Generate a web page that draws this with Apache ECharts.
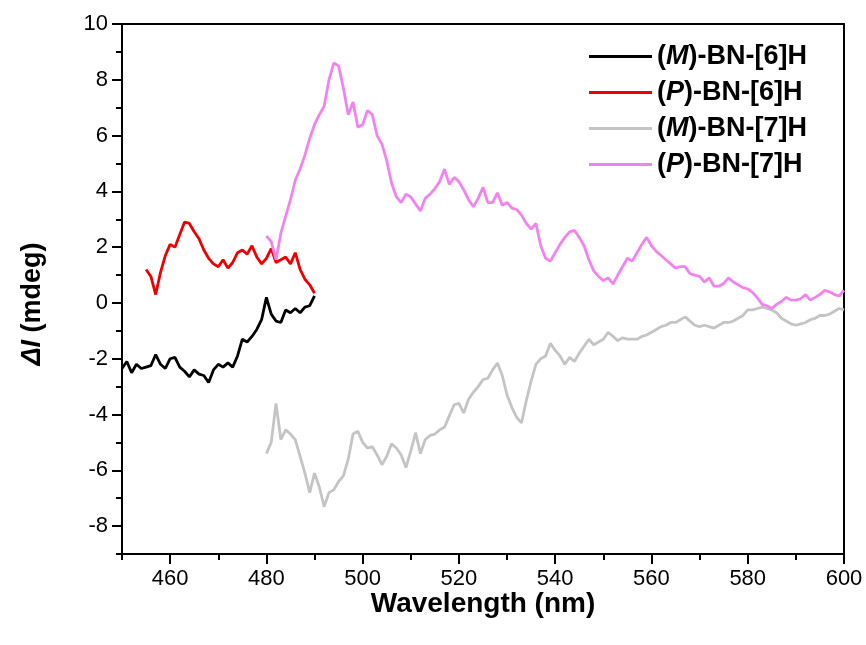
<!DOCTYPE html>
<html>
<head>
<meta charset="utf-8">
<script src="https://cdn.jsdelivr.net/npm/echarts@6/dist/echarts.min.js"></script>
<style>
  html, body { margin: 0; padding: 0; background: #fff; }
  #chart { width: 866px; height: 645px; }
</style>
</head>
<body>
<div id="chart"></div>
<script>
// 波长刻度
var majorX = [460, 480, 500, 520, 540, 560, 580, 600];
var minorX = [450, 470, 490, 510, 530, 550, 570, 590];
var majorY = [-8, -6, -4, -2, 0, 2, 4, 6, 8, 10];
var minorY = [-9, -7, -5, -3, -1, 1, 3, 5, 7, 9];

// (M)-BN-[6]H, 450-490 nm, 步长 1 nm
var m6Start = 450;
var m6Values = [-2.35, -2.1, -2.5, -2.2, -2.35, -2.3, -2.25, -1.85, -2.2, -2.35,
  -2.0, -1.95, -2.3, -2.45, -2.65, -2.4, -2.55, -2.6, -2.85, -2.4,
  -2.2, -2.3, -2.15, -2.3, -1.9, -1.3, -1.4, -1.2, -0.95, -0.6,
  0.2, -0.4, -0.65, -0.7, -0.25, -0.35, -0.2, -0.35, -0.15, -0.1, 0.25];

// (P)-BN-[6]H, 455-490 nm
var p6Start = 455;
var p6Values = [1.2, 0.95, 0.3, 1.1, 1.7, 2.1, 2.0, 2.45, 2.9, 2.85,
  2.55, 2.3, 1.9, 1.6, 1.4, 1.3, 1.55, 1.25, 1.45, 1.8,
  1.9, 1.75, 2.05, 1.65, 1.4, 1.6, 1.95, 1.45, 1.55, 1.65,
  1.4, 1.8, 1.2, 0.85, 0.65, 0.35];

// (M)-BN-[7]H, 480-600 nm
var m7Start = 480;
var m7Values = [-5.4, -5.0, -3.6, -4.9, -4.55, -4.7, -4.9, -5.5, -6.1, -6.8,
  -6.1, -6.6, -7.3, -6.8, -6.7, -6.4, -6.2, -5.6, -4.7, -4.6,
  -5.0, -5.2, -5.15, -5.45, -5.8, -5.5, -5.05, -5.2, -5.45, -5.9,
  -5.3, -4.65, -5.4, -4.9, -4.75, -4.7, -4.55, -4.45, -4.05, -3.65,
  -3.6, -3.95, -3.45, -3.2, -3.0, -2.75, -2.7, -2.4, -2.15, -2.6,
  -3.3, -3.75, -4.1, -4.3, -3.5, -2.8, -2.2, -2.0, -1.9, -1.45,
  -1.7, -1.9, -2.2, -1.95, -2.1, -1.8, -1.55, -1.3, -1.5, -1.4,
  -1.3, -1.05, -1.2, -1.35, -1.25, -1.3, -1.3, -1.3, -1.2, -1.15,
  -1.05, -0.95, -0.85, -0.8, -0.7, -0.7, -0.6, -0.5, -0.65, -0.8,
  -0.85, -0.8, -0.85, -0.9, -0.8, -0.7, -0.7, -0.65, -0.55, -0.45,
  -0.25, -0.25, -0.2, -0.15, -0.2, -0.25, -0.35, -0.55, -0.65, -0.75,
  -0.8, -0.75, -0.7, -0.6, -0.55, -0.45, -0.45, -0.4, -0.3, -0.2, -0.25];

// (P)-BN-[7]H, 480-600 nm
var p7Start = 480;
var p7Values = [2.4, 2.2, 1.55, 2.5, 3.1, 3.7, 4.4, 4.8, 5.3, 5.9,
  6.4, 6.75, 7.05, 8.0, 8.6, 8.5, 7.7, 6.75, 7.2, 6.3,
  6.4, 6.9, 6.75, 6.0, 5.7, 5.1, 4.3, 3.8, 3.6, 3.9,
  3.8, 3.55, 3.3, 3.75, 3.9, 4.1, 4.35, 4.8, 4.25, 4.5,
  4.35, 4.05, 3.7, 3.45, 3.75, 4.15, 3.6, 3.6, 3.95, 3.5,
  3.6, 3.4, 3.35, 3.15, 2.85, 2.65, 2.85, 2.05, 1.6, 1.5,
  1.8, 2.1, 2.35, 2.55, 2.6, 2.35, 2.05, 1.55, 1.15, 0.95,
  0.8, 0.9, 0.68, 1.0, 1.3, 1.6, 1.5, 1.8, 2.1, 2.35,
  2.05, 1.85, 1.7, 1.55, 1.4, 1.25, 1.3, 1.3, 1.05, 1.0,
  0.95, 0.75, 0.9, 0.6, 0.6, 0.7, 0.9, 0.75, 0.65, 0.55,
  0.5, 0.38, 0.18, -0.05, -0.1, -0.2, -0.05, 0.05, 0.2, 0.1,
  0.1, 0.15, 0.3, 0.1, 0.2, 0.3, 0.45, 0.4, 0.3, 0.25, 0.45];

var seriesNames = ['(M)-BN-[6]H', '(P)-BN-[6]H', '(M)-BN-[7]H', '(P)-BN-[7]H'];
var seriesColors = ['#000000', '#ee0000', '#c4c4c4', '#f282f2'];

function toPairs(start, values) {
  return values.map(function (v, i) { return [start + i, v]; });
}

var chart = echarts.init(document.getElementById('chart'));

var axisLineStyle = { color: '#000', width: 2 };
var baseFont = 'Liberation Sans, Arial, sans-serif';

function lineSeries(idx, data) {
  return {
    name: seriesNames[idx],
    type: 'line',
    data: data,
    showSymbol: false,
    symbol: 'none',
    lineStyle: { color: seriesColors[idx], width: 2.8 },
    itemStyle: { color: seriesColors[idx] },
    animation: false
  };
}

var option = {
  animation: false,
  grid: { left: 122, right: 22, top: 24, bottom: 91, containLabel: false },
  legend: {
    orient: 'vertical',
    left: 584,
    top: 38,
    icon: 'rect',
    itemWidth: 63,
    itemHeight: 3,
    itemGap: 9,
    data: seriesNames,
    textStyle: {
      fontFamily: baseFont,
      fontSize: 27,
      fontWeight: 'bold',
      color: '#000',
      rich: {
        i: { fontFamily: baseFont, fontSize: 27, fontWeight: 'bold', fontStyle: 'italic', color: '#000' }
      }
    },
    formatter: function (name) {
      return name.replace(/\((M|P)\)/, '({i|$1})');
    }
  },
  xAxis: [
    {
      type: 'value', min: 450, max: 600, position: 'bottom',
      name: 'Wavelength (nm)', nameLocation: 'middle', nameGap: 36, nameMoveOverlap: false,
      nameTextStyle: { fontFamily: baseFont, fontSize: 28, fontWeight: 'bold', color: '#000' },
      axisLine: { show: true, onZero: false, lineStyle: axisLineStyle },
      axisTick: { show: true, customValues: majorX, length: 10, lineStyle: axisLineStyle },
      axisLabel: { customValues: majorX, fontFamily: baseFont, fontSize: 22, color: '#000', margin: 14 },
      splitLine: { show: false }
    },
    {
      type: 'value', min: 450, max: 600, position: 'bottom',
      axisLine: { show: false, onZero: false },
      axisTick: { show: true, customValues: minorX, length: 6, lineStyle: axisLineStyle },
      axisLabel: { show: false },
      splitLine: { show: false }
    },
    {
      type: 'value', min: 450, max: 600, position: 'top',
      axisLine: { show: true, onZero: false, lineStyle: axisLineStyle },
      axisTick: { show: false },
      axisLabel: { show: false },
      splitLine: { show: false }
    }
  ],
  yAxis: [
    {
      type: 'value', min: -9, max: 10, position: 'left',
      name: '{i|ΔI} (mdeg)', nameLocation: 'middle', nameGap: 76, nameRotate: 90,
      nameTextStyle: {
        fontFamily: baseFont, fontSize: 27, fontWeight: 'bold', color: '#000',
        padding: [0, 30, 0, 0],
        rich: { i: { fontFamily: baseFont, fontSize: 27, fontWeight: 'bold', fontStyle: 'italic', color: '#000' } }
      },
      axisLine: { show: true, onZero: false, lineStyle: axisLineStyle },
      axisTick: { show: true, customValues: majorY, length: 10, lineStyle: axisLineStyle },
      axisLabel: { customValues: majorY, fontFamily: baseFont, fontSize: 22, color: '#000', margin: 14 },
      splitLine: { show: false }
    },
    {
      type: 'value', min: -9, max: 10, position: 'left',
      axisLine: { show: false, onZero: false },
      axisTick: { show: true, customValues: minorY, length: 6, lineStyle: axisLineStyle },
      axisLabel: { show: false },
      splitLine: { show: false }
    },
    {
      type: 'value', min: -9, max: 10, position: 'right',
      axisLine: { show: true, onZero: false, lineStyle: axisLineStyle },
      axisTick: { show: false },
      axisLabel: { show: false },
      splitLine: { show: false }
    }
  ],
  series: [
    lineSeries(0, toPairs(m6Start, m6Values)),
    lineSeries(1, toPairs(p6Start, p6Values)),
    lineSeries(2, toPairs(m7Start, m7Values)),
    lineSeries(3, toPairs(p7Start, p7Values))
  ]
};

chart.setOption(option);
</script>
</body>
</html>
